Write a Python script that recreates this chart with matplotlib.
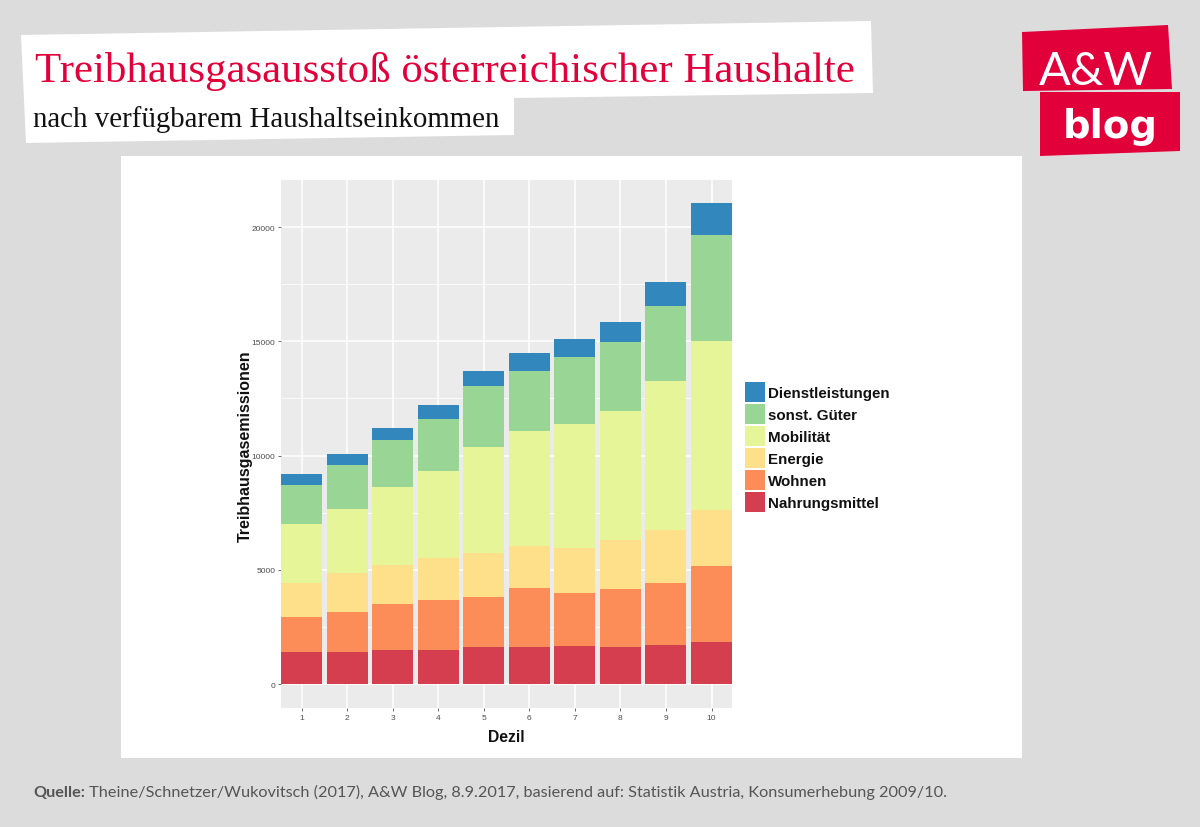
import matplotlib
matplotlib.use("Agg")
import matplotlib.pyplot as plt
from matplotlib.patches import Polygon, Rectangle
import numpy as np

# ---------------- data ----------------
deciles = [1, 2, 3, 4, 5, 6, 7, 8, 9, 10]
nahrungsmittel   = [1410, 1410, 1470, 1470, 1630, 1630, 1680, 1630, 1710, 1840]
wohnen           = [1510, 1750, 2020, 2190, 2200, 2580, 2290, 2540, 2700, 3320]
energie          = [1500, 1700, 1730, 1870, 1890, 1840, 1970, 2120, 2340, 2440]
mobilitaet       = [2570, 2790, 3390, 3780, 4640, 5010, 5450, 5640, 6510, 7420]
sonst_gueter     = [1730, 1950, 2070, 2290, 2680, 2650, 2930, 3020, 3270, 4630]
dienstleistungen = [470, 450, 540, 610, 670, 790, 800, 880, 1080, 1390]

series_names = ["Nahrungsmittel", "Wohnen", "Energie", "Mobilität", "sonst. Güter", "Dienstleistungen"]
series_values = [nahrungsmittel, wohnen, energie, mobilitaet, sonst_gueter, dienstleistungen]
series_colors = ["#d53e4f", "#fc8d59", "#fee08b", "#e6f598", "#99d594", "#3288bd"]
y_ticks = [0, 5000, 10000, 15000, 20000]

title = "Treibhausgasausstoß österreichischer Haushalte"
subtitle = "nach verfügbarem Haushaltseinkommen"
source_bold = "Quelle:"
source_rest = " Theine/Schnetzer/Wukovitsch (2017), A&W Blog, 8.9.2017, basierend auf: Statistik Austria, Konsumerhebung 2009/10."

W, H = 1200, 828
RED = "#e2003b"

fig = plt.figure(figsize=(W / 100, H / 100), dpi=100)
fig.patch.set_facecolor("#dcdcdc")

# background/pixel axes
bg = fig.add_axes([0, 0, 1, 1], zorder=0)
bg.set_xlim(0, W)
bg.set_ylim(H, 0)
bg.axis("off")

# white card
bg.add_patch(Rectangle((121, 157), 1022 - 121, 759 - 157, facecolor="white", edgecolor="none"))

# title boxes
bg.add_patch(Polygon([(21, 36), (871, 22), (873, 94), (514, 99), (514, 136), (26, 144)],
                     closed=True, facecolor="white", edgecolor="none"))

# logo
bg.add_patch(Polygon([(1022, 33), (1168, 26), (1172, 90), (1023, 92)], closed=True,
                     facecolor=RED, edgecolor="none"))
bg.add_patch(Polygon([(1040, 93), (1180, 93), (1180, 152), (1040, 157)], closed=True,
                     facecolor=RED, edgecolor="none"))

renderer = fig.canvas.get_renderer()


def fit_text(x, y, s, target_w, size, ha="left", **kw):
    t = bg.text(x, y, s, fontsize=size, va="baseline", ha=ha, **kw)
    w = t.get_window_extent(renderer).width
    t.set_fontsize(size * target_w / w)
    return t


fit_text(1096, 85, "A&W", 114, 30, ha="center", color="white", family="Lato",
         weight="normal")
fit_text(1110, 138, "blog", 95, 28, ha="center", color="white", family="DejaVu Sans",
         weight="bold")

fit_text(35, 82, title, 820, 30, color=RED, family="Liberation Serif")
fit_text(33, 127, subtitle, 467, 18, color="#111111", family="Liberation Serif")

# source line
tb = bg.text(33, 797, source_bold, fontsize=12, va="baseline", ha="left", color="#555555",
             family="Lato", weight="bold")
bw = tb.get_window_extent(renderer).width
tr = bg.text(33 + bw, 797, source_rest, fontsize=12, va="baseline", ha="left", color="#555555",
             family="Lato")
rw = tr.get_window_extent(renderer).width
scale = (940 - 33) / (bw + rw)
tb.set_fontsize(12 * scale)
bw2 = tb.get_window_extent(renderer).width
tr.set_fontsize(12 * scale)
tr.set_x(33 + bw2)

# legend (manual, pixel layout)
legend_names = series_names[::-1]
legend_colors = series_colors[::-1]
for i, (nm, col) in enumerate(zip(legend_names, legend_colors)):
    yc = 393 + 22 * i
    bg.add_patch(Rectangle((745, yc - 9.7), 20, 19.4, facecolor=col, edgecolor="none"))
    bg.text(768, yc, nm, fontsize=10.9, weight="bold", family="Liberation Sans",
            color="#111111", va="center_baseline", ha="left")

# ---------------- chart ----------------
px0, px1, py0, py1 = 281, 732, 181, 709
ax = fig.add_axes([px0 / W, 1 - py1 / H, (px1 - px0) / W, (py1 - py0) / H], zorder=2)
ax.set_facecolor("#ebebeb")
for sp in ax.spines.values():
    sp.set_visible(False)

x = np.array(deciles)
bottom = np.zeros(len(deciles))
for name, vals, col in zip(series_names, series_values, series_colors):
    ax.bar(x, vals, bottom=bottom, width=0.9, color=col, edgecolor="none", label=name, zorder=3)
    bottom += np.array(vals)

ax.set_xlim(0.55, 10.45)
ax.set_ylim(-1050, 22060)
ax.set_xticks(deciles)
ax.set_xticklabels([str(d) for d in deciles])
ax.set_yticks(y_ticks)
ax.set_yticklabels([str(v) for v in y_ticks])
ax.set_yticks([2500, 7500, 12500, 17500], minor=True)
ax.grid(which="major", color="white", linewidth=1.1, zorder=1)
ax.grid(which="minor", axis="y", color="white", linewidth=0.55, zorder=1)
ax.set_axisbelow(True)
ax.tick_params(which="major", length=2.2, width=0.6, color="#555555", labelsize=6,
               labelcolor="#4d4d4d", pad=2)
ax.tick_params(which="minor", length=0)
for lab in ax.get_xticklabels() + ax.get_yticklabels():
    lab.set_family("Liberation Sans")

ax.set_xlabel("Dezil", fontsize=11.3, weight="bold", family="Liberation Sans", labelpad=6,
              color="#111111")
ax.set_ylabel("Treibhausgasemissionen", fontsize=11.5, weight="bold", family="Liberation Sans",
              color="#111111")
ax.yaxis.set_label_coords(-0.062, 0.497)

fig.savefig("out.png", dpi=100, facecolor=fig.get_facecolor())
